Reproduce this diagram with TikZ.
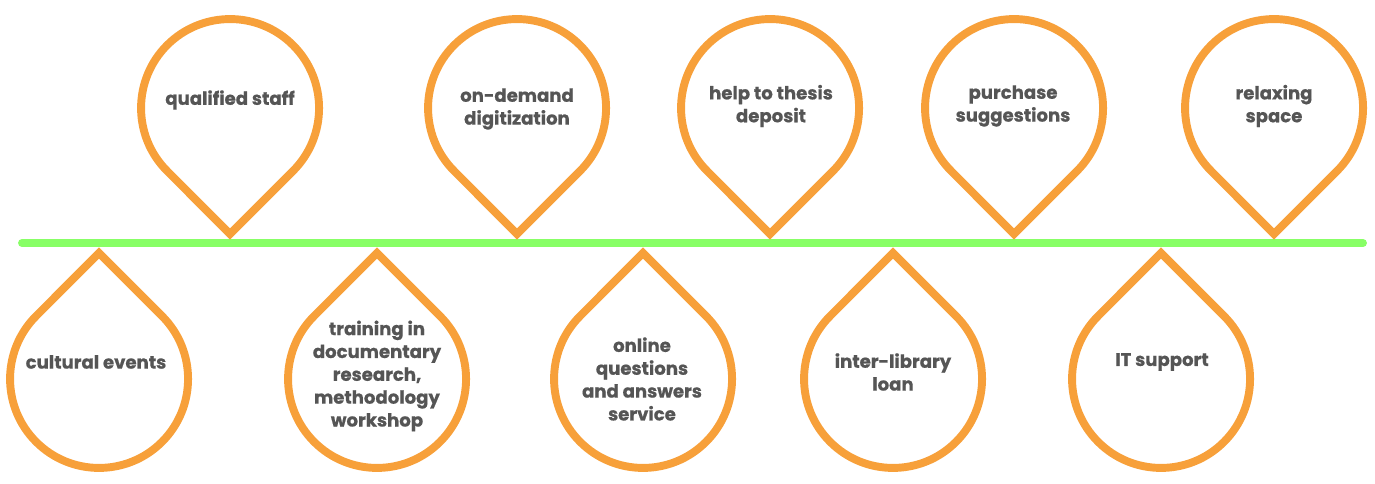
\documentclass[tikz,border=0pt]{standalone}
\usepackage{fontspec}
\setmainfont{Poppins}[BoldFeatures={FakeBold=0.7}]
\definecolor{droporange}{RGB}{247,160,58}
\definecolor{linegreen}{RGB}{136,255,102}
\definecolor{textgray}{RGB}{85,85,85}

\begin{document}
\begin{tikzpicture}[x=0.2mm,y=0.2mm,
	dropline/.style={draw=droporange,line width=4.5pt,line join=miter},
	droptext/.style={text=textgray,font=\bfseries\fontsize{10.3}{13}\selectfont,align=center}]
	\useasboundingbox (0,0) rectangle (1375,484);
	% time line
	\draw[linegreen,line width=4.5pt,line cap=round] (22,241)--(1363,241);
	% drops above and below
	\foreach \x in {230,517,770,1014,1274}
		\draw[dropline] (\x,250)--++(63,63) arc[start angle=-45,end angle=225,radius=17.8mm]--cycle;
	\foreach \x in {99,377,643,893,1161}
		\draw[dropline] (\x,231)--++(63,-63) arc[start angle=45,end angle=-225,radius=17.8mm]--cycle;
	% labels
	\node[droptext] (staff) at (230,384) {qualified staff};
	\node[droptext] (digit) at (517,375) {on-demand\\digitization};
	\node[droptext] (thesis) at (771,378) {help to thesis\\deposit};
	\node[droptext] (purchase) at (1013,378) {purchase\\suggestions};
	\node[droptext] (relax) at (1274,378) {relaxing\\space};
	\node[droptext] (events) at (96,122) {cultural events};
	\node[droptext] (training) at (377,108) {training in\\documentary\\research,\\methodology\\workshop};
	\node[droptext] (online) at (642,105) {online\\questions\\and answers\\service};
	\node[droptext] (loan) at (893,112) {inter-library\\loan};
	\node[droptext] (itsupport) at (1162,122) {IT support};
\end{tikzpicture}
\end{document}
